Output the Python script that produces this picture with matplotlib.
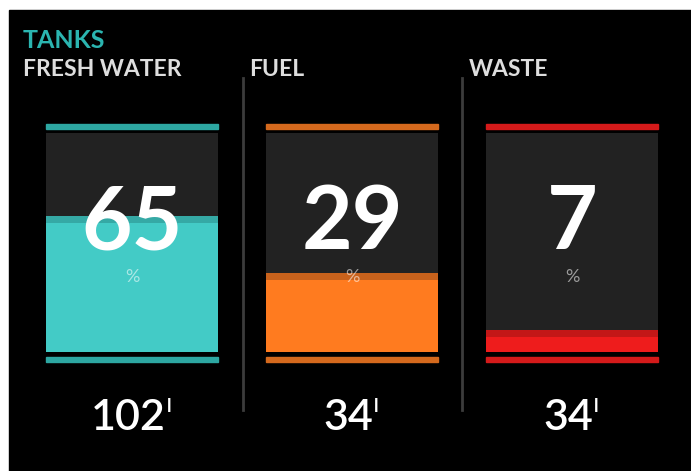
import matplotlib
matplotlib.use("Agg")
import matplotlib.pyplot as plt
from matplotlib.patches import Rectangle
from matplotlib.lines import Line2D

# ---- data ----
tank_names = ["FRESH WATER", "FUEL", "WASTE"]
percent_values = [65, 29, 7]          # displayed percentages
fill_levels = [62, 36, 10]            # visible fill height of each gauge (% of box)
litres = [102, 34, 34]
title = "TANKS"

# ---- style ----
W, H = 691, 471
fill_colors = ["#43cbc6", "#ff7b1f", "#ee1c1c"]
strip_colors = ["#35a9a5", "#c8621c", "#c31717"]
line_colors = ["#2da7a2", "#d4691d", "#d41a1a"]
box_color = "#222222"
FONT = ["Lato", "DejaVu Sans"]

fig = plt.figure(figsize=(W / 100, H / 100), dpi=100, facecolor="white")
fig.patches.append(Rectangle((8.5 / W, 0), 1, (H - 9.5) / H,
                             transform=fig.transFigure, color="black", zorder=-10))

box_left = [46, 266, 486]
box_w, box_top, box_bot = 172, 133, 352
box_h = box_bot - box_top

axes = []
for i in range(3):
    ax = fig.add_axes([box_left[i] / W, (H - box_bot) / H, box_w / W, box_h / H])
    ax.set_zorder(1)
    ax.set_facecolor(box_color)
    ax.set_xlim(0, 1)
    ax.set_ylim(0, 100)
    ax.set_xticks([])
    ax.set_yticks([])
    for s in ax.spines.values():
        s.set_visible(False)
    ax.bar(0.5, fill_levels[i], width=1, color=fill_colors[i], zorder=2)
    strip = 3.0
    ax.bar(0.5, strip, bottom=fill_levels[i] - strip, width=1,
           color=strip_colors[i], zorder=3)
    # cap lines above and below
    ax.add_patch(Rectangle((0, 1 + 4 / box_h), 1, 5 / box_h, transform=ax.transAxes,
                           clip_on=False, color=line_colors[i]))
    ax.add_patch(Rectangle((0, -10 / box_h), 1, 5 / box_h, transform=ax.transAxes,
                           clip_on=False, color=line_colors[i]))
    ax.text(0.5, (box_bot - 224) / box_h, str(percent_values[i]), transform=ax.transAxes,
            ha="center", va="center", color="white", fontsize=63, fontweight="bold",
            family=FONT, zorder=5)
    ax.text(0.5, (box_bot - 277) / box_h, "%", transform=ax.transAxes,
            ha="center", va="center", color="white", alpha=0.55, fontsize=13,
            family=FONT, zorder=5)
    axes.append(ax)

# titles
fig.text(23 / W, 1 - 48 / H, title, color="#2bb5b0", fontsize=18, fontweight="bold",
         family=FONT, va="baseline")
title_x = [23, 249, 469]
for i, name in enumerate(tank_names):
    fig.text(title_x[i] / W, 1 - 76 / H, name, color="#dedede", fontsize=16.5,
             fontweight="bold", family=FONT, va="baseline")

# dividers
for x in [243, 462]:
    fig.add_artist(Line2D([x / W, x / W], [1 - 78 / H, 1 - 410 / H],
                          color="#3c3c3c", lw=2))

# litre values
fig.canvas.draw()
renderer = fig.canvas.get_renderer()
for i in range(3):
    cx = box_left[i] + box_w / 2 - 4
    t = fig.text(cx / W, 1 - 430 / H, str(litres[i]), color="white", fontsize=31,
                 fontweight="semibold", family=FONT, ha="center", va="baseline")
    bb = t.get_window_extent(renderer)
    fig.text((bb.x1 + 1) / W, 1 - 412 / H, "l", color="white", fontsize=13,
             fontweight="bold", family=FONT, ha="left", va="baseline")

fig.savefig("out.png", dpi=100, facecolor="white")
